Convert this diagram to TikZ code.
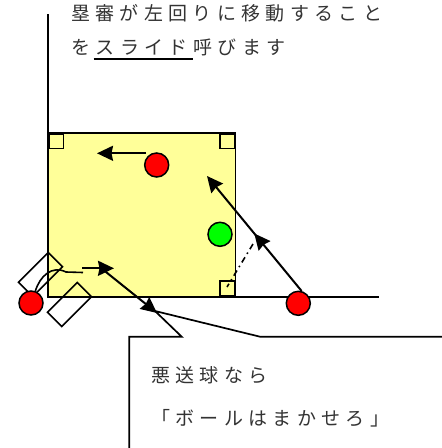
\documentclass[tikz,border=0pt]{standalone}
\usepackage{fontspec}
\newfontfamily\jpfont[LetterSpace=28]{Noto Sans CJK JP}
\usetikzlibrary{arrows.meta}
\usetikzlibrary{positioning}
\usetikzlibrary{decorations.markings}
\definecolor{infieldyellow}{RGB}{255,255,153}
\tikzstyle{runner} = [circle, fill=red, draw=black, line width=1.5pt,
minimum size=24pt, inner sep=0pt]
\tikzstyle{fielder} = [runner, fill=green]
\tikzstyle{bag} = [rectangle, fill=infieldyellow, draw=black, line width=1.6pt,
minimum size=14.5pt, inner sep=0pt, anchor=north west]
\tikzstyle{batterbox} = [rectangle, draw=black, line width=1.6pt,
minimum width=42pt, minimum height=20pt, inner sep=0pt, rotate=45]
\tikzstyle{jtext} = [font=\jpfont\fontsize{19}{22}\selectfont, text=black!80,
inner sep=0pt, anchor=base west]
\tikzstyle{foul} = [line width=2pt]
\tikzset{runtip/.tip={Stealth[length=16pt,width=15pt,inset=1.5pt]}}
\tikzstyle{move} = [-runtip, line width=2pt]

\begin{document}
\begin{tikzpicture}[x=1pt, y=-1pt]
                \useasboundingbox (0,0) rectangle (442,448); %

                % infield
                \draw[fill=infieldyellow, line width=1.8pt] (48,133) rectangle (235.5,296.5); %
                \draw[foul] (48,14) -- (48,296.5) -- (379,296.5); %

                \node[batterbox] (lbox) at (40.5,274.5) {}; %
                \node[batterbox] (rbox) at (69.5,304.5) {}; %

                \node[bag] (second) at (48,133) {}; %
                \node[bag, anchor=north east] (first) at (235.5,133) {}; %
                \node[bag, anchor=south east] (home) at (235.5,296.5) {}; %

                \node[runner] (rhome) at (31,303) {}; %
                \node[runner] (rsecond) at (156.7,165) {}; %
                \node[runner] (rfirst) at (298.3,303.3) {}; %
                \node[fielder] (umpire) at (220,234.3) {}; %

                % moves
                \coordinate (slideA) at (146,153.3); %
                \coordinate (slideB) at (97,153.3); %
                \draw[move] (slideA) -- (slideB); %

                \coordinate (runEnd) at (207,176); %
                \draw[move, postaction={decorate}, decoration={markings,
                    mark=at position 0.5 with {\arrow{runtip}}}] (rfirst.75) -- (runEnd); %

                \coordinate (cutA) at (253,244); %
                \coordinate (cutB) at (227,287); %
                \draw[line width=1.6pt, dash pattern=on 6pt off 4pt on 1.5pt off 4pt] (cutA) -- (cutB); %

                \coordinate (hookA) at (66,272); %
                \coordinate (hookB) at (83,272.5); %
                \draw[line width=1.6pt] (rhome.70) .. controls (40,276) and (52,265) .. (hookA) -- (hookB); %

                \coordinate (throwA) at (82,268.3); %
                \coordinate (throwB) at (114,268.3); %
                \draw[move] (throwA) -- (throwB); %

                % callout
                \coordinate (tip) at (157,313); %
                \draw[move] (101,268) -- (tip); %
                \draw[line width=1.7pt] (129.3,449) -- (129.3,336.7) -- (181.7,336.7) -- (155,311)
                    -- (260,336.7) -- (443,336.7); %

                % texts
                \node[jtext] (cap1) at (71,20) {塁審が左回りに移動すること}; %
                \node[jtext] (cap2a) at (71,54) {を}; %
                \node[jtext] (slide) at ([xshift=5.3pt]cap2a.base east) {スライド}; %
                \node[jtext] (cap2b) at ([xshift=5.3pt]slide.base east) {呼びます}; %
                \draw[line width=2pt] ([xshift=-2pt,yshift=-5pt]slide.base west)
                    -- ([yshift=-5pt]cap2b.base west); %

                \node[jtext] (say1) at (151,382) {悪送球なら}; %
                \node[jtext] (say2) at (151,425) {「ボールはまかせろ」}; %
\end{tikzpicture}
\end{document}
